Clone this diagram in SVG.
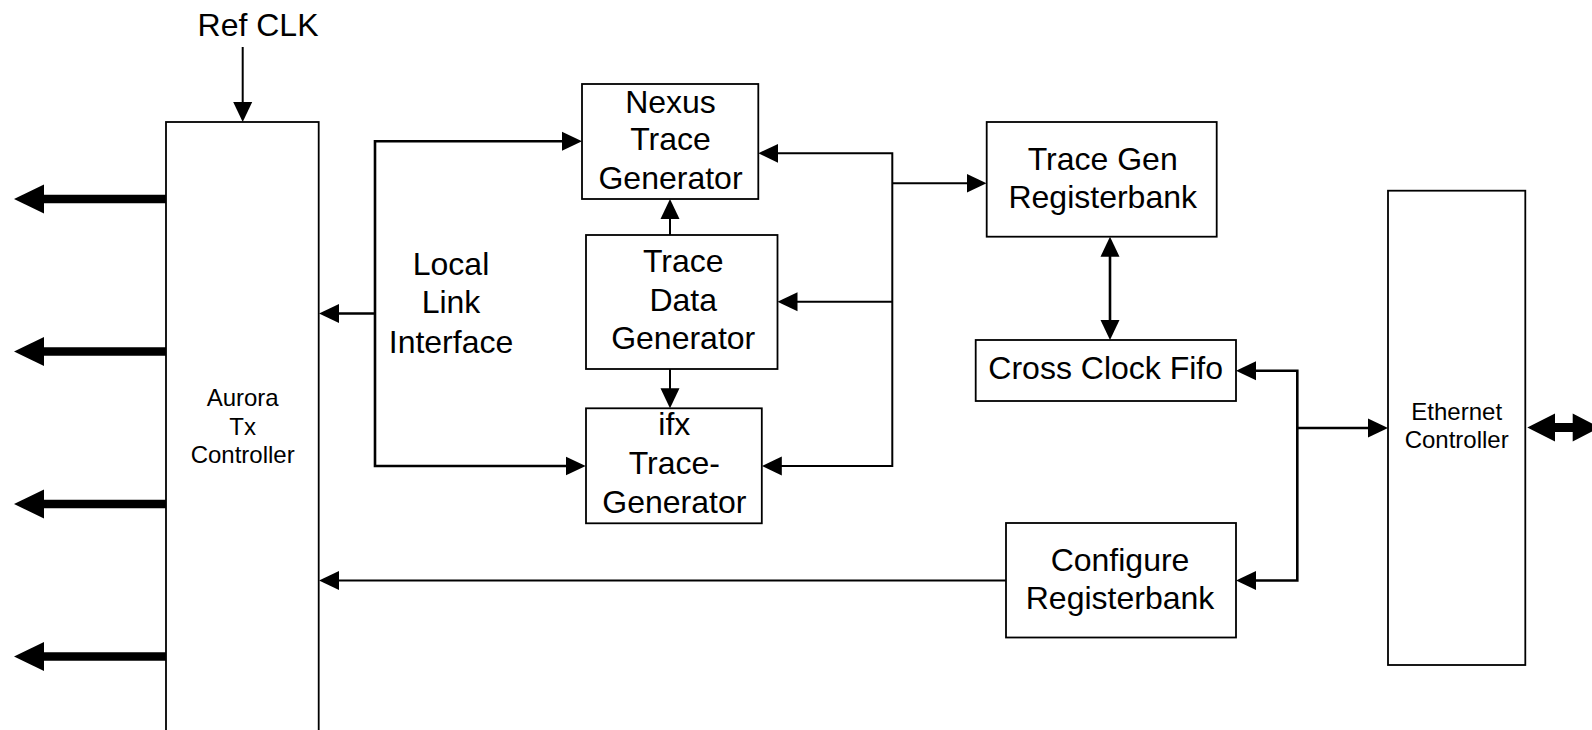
<svg xmlns="http://www.w3.org/2000/svg" width="1592" height="730" viewBox="0 0 1592 730">
  <style>
    .box { fill: #ffffff; stroke: #000000; stroke-width: 1.8; }
    .lbl { font-family: "Liberation Sans", Arial, sans-serif; font-size: 32px; fill: #000000; text-anchor: middle; }
    .sm { font-size: 24px; }
    .wire { fill: none; stroke: #000000; stroke-width: 2; }
    .bus { fill: none; stroke: #000000; stroke-width: 2.6; }
    .fat { fill: none; stroke: #000000; stroke-width: 8.7; }
    .head { fill: #000000; stroke: none; }
  </style>
  <defs>
    <!-- standard arrowhead: tip sits 4px past the line end -->
    <marker id="ah" viewBox="0 0 20 20" markerUnits="userSpaceOnUse" markerWidth="20" markerHeight="20" refX="16" refY="10" orient="auto-start-reverse">
      <path d="M0,0.5 L20,10 L0,19.5 z" fill="#000000"/>
    </marker>
    <!-- large arrowhead for the serial lanes: line stops just inside the base -->
    <marker id="fh" viewBox="0 0 30 30" markerUnits="userSpaceOnUse" markerWidth="30" markerHeight="30" refX="4" refY="15" orient="auto">
      <path d="M0,0.5 L30,15 L0,29.5 z" fill="#000000"/>
    </marker>
  </defs>

  <!-- connectors -->
  <g id="connectors">
    <!-- reference clock input -->
    <line class="wire" x1="242.7" y1="47" x2="242.7" y2="118" marker-end="url(#ah)"/>
    <!-- serial output lanes -->
    <line class="fat" x1="166" y1="199" x2="40" y2="199" marker-end="url(#fh)"/>
    <line class="fat" x1="166" y1="351.5" x2="40" y2="351.5" marker-end="url(#fh)"/>
    <line class="fat" x1="166" y1="504" x2="40" y2="504" marker-end="url(#fh)"/>
    <line class="fat" x1="166" y1="656.5" x2="40" y2="656.5" marker-end="url(#fh)"/>
    <!-- local link interface bus -->
    <path class="bus" d="M578,141.3 H375 V466 H581.7" marker-start="url(#ah)" marker-end="url(#ah)"/>
    <line class="bus" x1="375" y1="313.5" x2="323" y2="313.5" marker-end="url(#ah)"/>
    <!-- trace data generator outputs -->
    <line class="wire" x1="670" y1="235" x2="670" y2="203" marker-end="url(#ah)"/>
    <line class="wire" x1="670" y1="369" x2="670" y2="404.3" marker-end="url(#ah)"/>
    <!-- register bus to the generators -->
    <path class="wire" d="M762.3,153.3 H892.3 V466 H765.8" marker-start="url(#ah)" marker-end="url(#ah)"/>
    <line class="wire" x1="892.3" y1="301.7" x2="781.5" y2="301.7" marker-end="url(#ah)"/>
    <line class="wire" x1="892.3" y1="183.3" x2="982.5" y2="183.3" marker-end="url(#ah)"/>
    <!-- registerbank to fifo -->
    <line class="bus" x1="1110" y1="240.7" x2="1110" y2="336" marker-start="url(#ah)" marker-end="url(#ah)"/>
    <!-- configuration to aurora -->
    <line class="wire" x1="1006" y1="580.5" x2="323" y2="580.5" marker-end="url(#ah)"/>
    <!-- ethernet side bus -->
    <path class="bus" d="M1240,370.7 H1297.3 V580.5 H1240" marker-start="url(#ah)" marker-end="url(#ah)"/>
    <line class="bus" x1="1297.3" y1="428" x2="1384" y2="428" marker-end="url(#ah)"/>
    <!-- external network link -->
    <path class="head" d="M1527.3,427.5 L1555,413.5 L1555,423 L1572.7,423 L1572.7,413.5 L1600,427.5 L1572.7,441.5 L1572.7,432 L1555,432 L1555,441.5 z"/>
  </g>

  <g id="aurora">
    <rect class="box" x="166" y="122" width="152.7" height="640"/>
    <text class="lbl sm" x="242.7" y="406">Aurora</text>
    <text class="lbl sm" x="242.7" y="435">Tx</text>
    <text class="lbl sm" x="242.7" y="463">Controller</text>
  </g>

  <g id="refclk">
    <text class="lbl" x="258" y="36">Ref CLK</text>
  </g>

  <g id="locallink">
    <text class="lbl" x="451" y="275">Local</text>
    <text class="lbl" x="451" y="313.3">Link</text>
    <text class="lbl" x="451" y="352.7">Interface</text>
  </g>

  <g id="nexus">
    <rect class="box" x="582" y="84" width="176.3" height="115"/>
    <text class="lbl" x="670.5" y="112.7">Nexus</text>
    <text class="lbl" x="670.5" y="150">Trace</text>
    <text class="lbl" x="670.5" y="189.3">Generator</text>
  </g>

  <g id="tracedata">
    <rect class="box" x="586" y="235" width="191.5" height="134"/>
    <text class="lbl" x="683.2" y="271.7">Trace</text>
    <text class="lbl" x="683.2" y="310.7">Data</text>
    <text class="lbl" x="683.2" y="349.3">Generator</text>
  </g>

  <g id="ifxtrace">
    <rect class="box" x="586" y="408.3" width="175.8" height="115"/>
    <text class="lbl" x="674.3" y="435">ifx</text>
    <text class="lbl" x="674.3" y="474">Trace-</text>
    <text class="lbl" x="674.3" y="513">Generator</text>
  </g>

  <g id="tracegenregs">
    <rect class="box" x="986.7" y="122" width="230" height="114.7"/>
    <text class="lbl" x="1102.7" y="169.6">Trace Gen</text>
    <text class="lbl" x="1102.7" y="207.9">Registerbank</text>
  </g>

  <g id="fifo">
    <rect class="box" x="975.7" y="340" width="260.3" height="61"/>
    <text class="lbl" x="1105.7" y="378.6">Cross Clock Fifo</text>
  </g>

  <g id="configregs">
    <rect class="box" x="1006" y="523" width="230" height="114.5"/>
    <text class="lbl" x="1120" y="570.7">Configure</text>
    <text class="lbl" x="1120" y="609">Registerbank</text>
  </g>

  <g id="ethernet">
    <rect class="box" x="1388" y="190.7" width="137.3" height="474.3"/>
    <text class="lbl sm" x="1456.7" y="420">Ethernet</text>
    <text class="lbl sm" x="1456.7" y="448.3">Controller</text>
  </g>
</svg>
